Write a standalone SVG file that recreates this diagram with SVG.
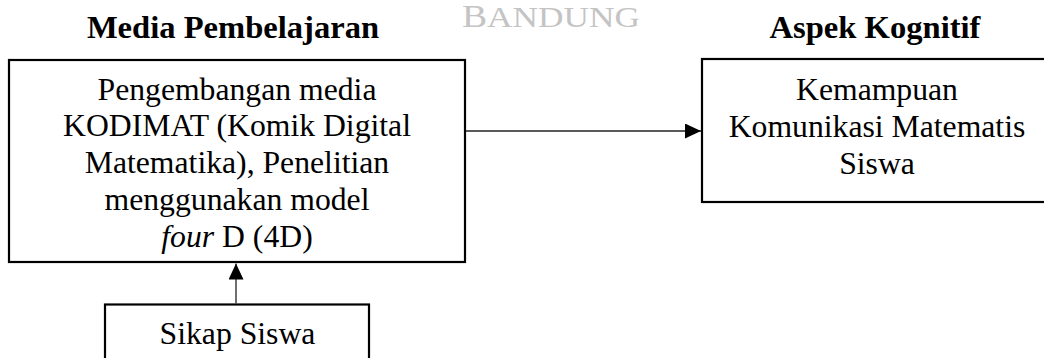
<svg xmlns="http://www.w3.org/2000/svg" width="1044" height="358" viewBox="0 0 1044 358">
<defs>
<style>
.t{font-family:"Liberation Serif","Times New Roman",serif;font-size:31.7px;fill:#000;text-anchor:middle}
.h{font-family:"Liberation Serif","Times New Roman",serif;font-size:32.6px;font-weight:bold;fill:#000;text-anchor:middle}
.box{fill:#fff;stroke:#000;stroke-width:2.2}
.con{stroke:#222;stroke-width:1.3;fill:none}
</style>
<marker id="ah" viewBox="0 0 16 15" refX="16" refY="7.5" markerWidth="16" markerHeight="15" markerUnits="userSpaceOnUse" orient="auto">
<path d="M0,0 L16,7.5 L0,15 Z" fill="#000"/>
</marker>
</defs>
<rect width="1044" height="358" fill="#fff"/>
<text x="462" y="27" textLength="178" lengthAdjust="spacingAndGlyphs" style="font-family:'Liberation Serif',serif;font-size:30px;fill:#c4c4c4"><tspan font-size="32">B</tspan>ANDUNG</text>
<text class="h" x="233" y="38">Media Pembelajaran</text>
<text class="h" x="875" y="38">Aspek Kognitif</text>
<g id="media">
<rect class="box" x="9" y="60" width="456" height="202"/>
<text class="t" x="237" y="99.5">Pengembangan media</text>
<text class="t" x="237" y="136.3">KODIMAT (Komik Digital</text>
<text class="t" x="237" y="173.1">Matematika), Penelitian</text>
<text class="t" x="237" y="209.9">menggunakan model</text>
<text class="t" x="237" y="246.7"><tspan font-style="italic">four</tspan> D (4D)</text>
</g>
<g id="kognitif">
<rect class="box" x="702" y="59" width="360" height="143"/>
<text class="t" x="877" y="100">Kemampuan</text>
<text class="t" x="877" y="136.8">Komunikasi Matematis</text>
<text class="t" x="877" y="173.6">Siswa</text>
</g>
<g id="sikap">
<rect class="box" x="105" y="304.5" width="264" height="70"/>
<text class="t" x="237.5" y="344">Sikap Siswa</text>
</g>
<g id="connectors">
<line class="con" x1="466" y1="131" x2="701" y2="131" marker-end="url(#ah)"/>
<line class="con" x1="236" y1="303.5" x2="236" y2="263.5" marker-end="url(#ah)"/>
</g>
</svg>
